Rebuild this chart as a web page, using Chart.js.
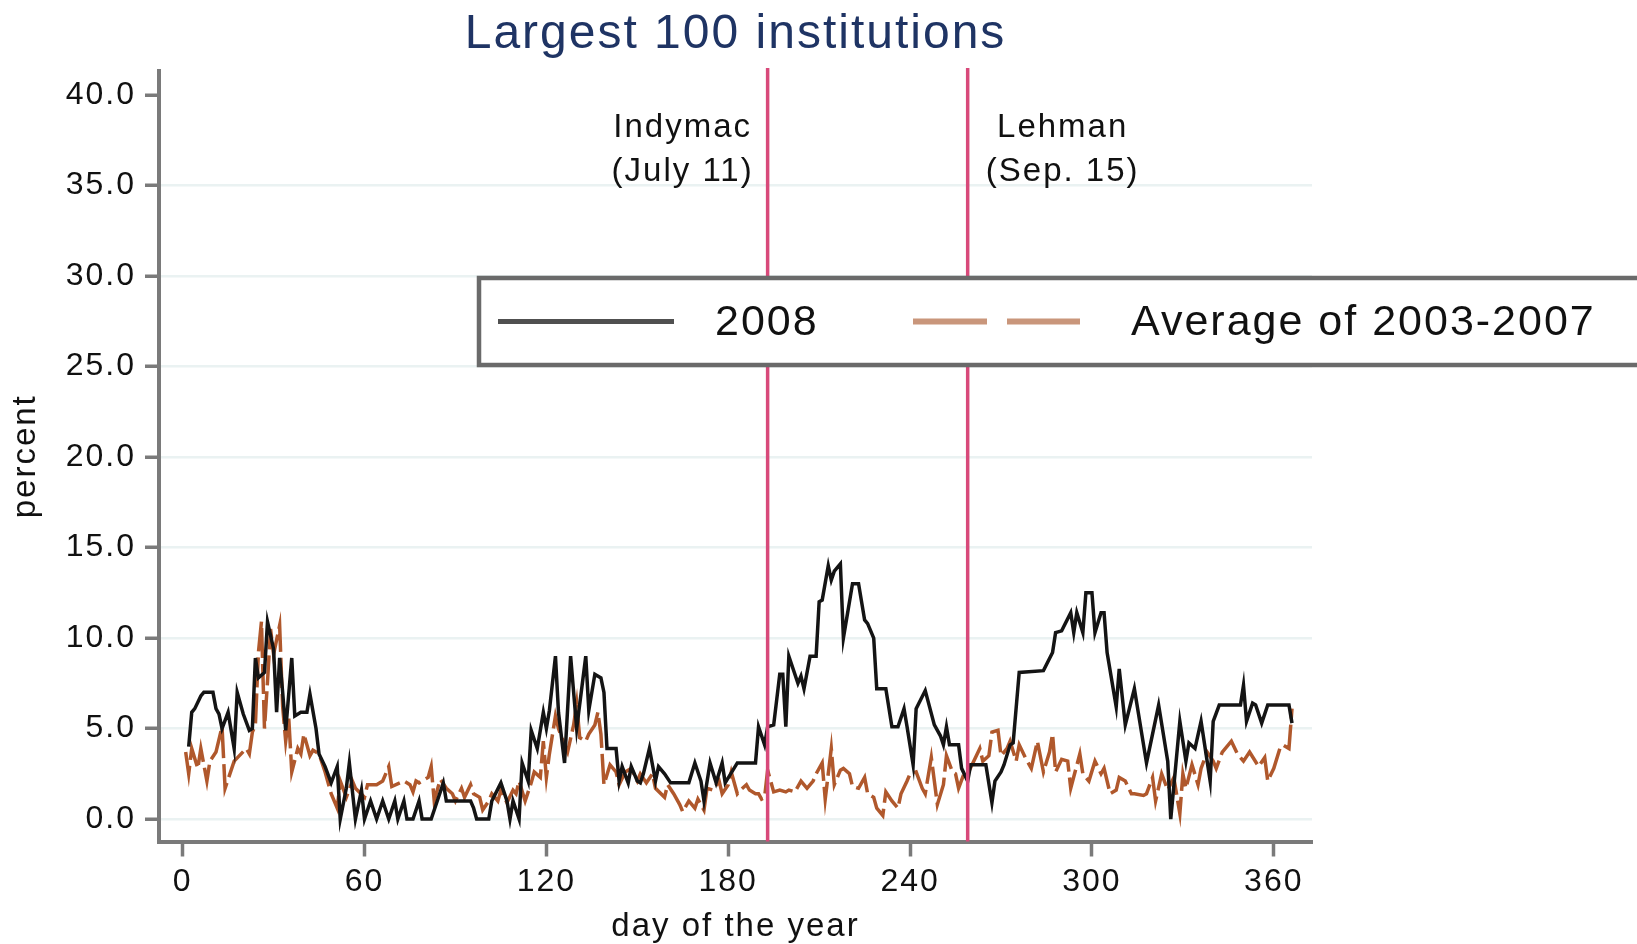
<!DOCTYPE html>
<html>
<head>
<meta charset="utf-8">
<title>Largest 100 institutions</title>
<script src="https://cdn.jsdelivr.net/npm/chart.js@4/dist/chart.umd.min.js"></script>
<style>
  html, body { margin: 0; padding: 0; background: #fff; }
  #wrap { width: 1637px; height: 944px; position: relative; }
</style>
</head>
<body>
<div id="wrap"><canvas id="chart"></canvas></div>
<script>
// ---- data -----------------------------------------------------------------
const dayTicks = [0, 60, 120, 180, 240, 300, 360]
const pctTicks = [0, 5, 10, 15, 20, 25, 30, 35, 40]

const seriesLabels = ["2008", "Average of 2003-2007"]

// 2008 (solid black)
const days2008 = [2, 3, 4, 6, 7, 10, 11, 12, 13, 15, 16, 17, 18, 20, 22, 23, 24, 25, 27, 28,
  30, 31, 32, 33, 34, 36, 37, 39, 41, 42, 44, 45, 47, 49, 51, 52, 54, 55, 57, 59,
  60, 62, 64, 66, 68, 70, 71, 73, 74, 76, 78, 79, 82, 84, 86, 87, 95, 96, 97, 101,
  102, 105, 107, 108, 109, 111, 112, 114, 115, 117, 119, 120, 121, 123, 124, 126, 128, 130, 133, 134,
  136, 138, 139, 140, 143, 144, 145, 147, 148, 150, 151, 152, 154, 156, 157, 159, 161, 167, 169, 171,
  172, 174, 176, 178, 179, 183, 189, 190, 192, 193, 195, 197, 198, 199, 200, 203, 204, 205, 207, 209,
  210, 211, 213, 214, 215, 217, 218, 221, 223, 225, 226, 228, 229, 232, 234, 236, 238, 239, 241, 242,
  245, 248, 250, 251, 252, 253, 256, 257, 259, 260, 265, 267, 268, 270, 271, 273, 274, 276, 284, 287,
  288, 290, 293, 294, 295, 297, 298, 300, 301, 303, 304, 305, 308, 309, 311, 314, 318, 322, 325, 326,
  329, 331, 332, 334, 336, 339, 340, 342, 349, 350, 351, 353, 354, 356, 358, 365, 366]
const pct2008 = [4.0, 5.9, 6.1, 6.8, 7.0, 7.0, 6.1, 5.8, 5.0, 5.9, 4.9, 3.9, 7.0, 5.8, 4.9, 5.0, 8.9, 7.8, 8.1, 10.9,
  9.4, 5.9, 8.9, 7.0, 4.9, 8.9, 5.7, 5.9, 5.9, 6.9, 5.0, 3.6, 2.9, 2.0, 2.9, 0.0, 1.7, 3.1, 0.0, 1.6,
  0.0, 1.0, 0.0, 1.0, 0.0, 1.0, 0.0, 1.0, 0.0, 0.0, 1.0, 0.0, 0.0, 1.0, 2.0, 1.0, 1.0, 0.6, 0.0, 0.0,
  1.0, 2.0, 1.0, 0.0, 1.0, 0.0, 3.1, 2.1, 4.9, 3.9, 5.9, 5.0, 6.0, 9.0, 5.9, 3.1, 9.0, 5.0, 9.0, 6.0,
  8.0, 7.8, 7.0, 3.9, 3.9, 2.1, 2.9, 2.0, 2.9, 2.1, 2.0, 2.5, 3.9, 2.1, 2.9, 2.5, 2.0, 2.0, 3.1, 2.1,
  1.0, 3.1, 2.0, 3.1, 2.0, 3.1, 3.1, 5.1, 4.1, 5.1, 5.2, 8.0, 8.0, 5.1, 9.0, 7.5, 7.9, 7.2, 9.0, 9.0,
  12.0, 12.1, 14.0, 13.2, 13.7, 14.1, 10.0, 13.0, 13.0, 11.0, 10.8, 10.0, 7.2, 7.2, 5.1, 5.1, 6.1, 5.1, 3.0, 6.1,
  7.1, 5.2, 4.6, 4.1, 5.1, 4.1, 4.1, 2.8, 2.1, 3.0, 3.0, 0.9, 2.1, 2.6, 3.0, 4.1, 4.2, 8.1, 8.2, 9.2,
  10.3, 10.4, 11.4, 10.3, 11.4, 10.3, 12.5, 12.5, 10.3, 11.4, 11.4, 9.2, 6.2, 8.3, 5.2, 7.2, 3.1, 6.3, 3.2, 0.0,
  5.4, 3.2, 4.2, 3.9, 5.4, 2.1, 5.4, 6.3, 6.3, 7.4, 5.4, 6.4, 6.3, 5.3, 6.3, 6.3, 5.3]

// Average of 2003-2007 (dashed brown)
const daysAvg = [1, 2, 3, 5, 6, 8, 9, 11, 13, 14, 17, 21, 22, 23, 24, 25, 26, 27, 28, 29,
  30, 32, 33, 34, 35, 36, 38, 39, 40, 42, 43, 45, 47, 49, 51, 52, 54, 56, 57, 60,
  61, 64, 66, 68, 69, 73, 75, 76, 77, 78, 81, 82, 83, 85, 87, 89, 90, 92, 93, 95,
  96, 98, 99, 101, 102, 104, 105, 107, 109, 110, 111, 113, 115, 116, 118, 119, 120, 121, 123, 124,
  126, 127, 129, 130, 131, 133, 134, 136, 137, 138, 139, 141, 143, 144, 146, 148, 150, 151, 153, 155,
  156, 159, 160, 162, 164, 165, 167, 169, 170, 172, 173, 175, 177, 178, 180, 181, 183, 184, 186, 187,
  189, 190, 191, 192, 193, 195, 197, 199, 200, 202, 204, 206, 208, 209, 211, 212, 214, 215, 217, 218,
  220, 221, 223, 225, 226, 228, 229, 231, 232, 234, 236, 237, 239, 240, 242, 244, 245, 247, 248, 249,
  251, 252, 254, 255, 256, 258, 259, 261, 263, 264, 266, 267, 269, 270, 272, 273, 275, 276, 278, 280,
  282, 284, 286, 287, 288, 290, 292, 293, 296, 297, 299, 301, 303, 304, 306, 308, 309, 311, 313, 314,
  317, 318, 320, 321, 323, 325, 327, 329, 330, 331, 333, 335, 336, 338, 340, 341, 343, 346, 348, 350,
  352, 355, 357, 358, 360, 362, 363, 365, 366]
const pctAvg = [3.7, 2.5, 3.9, 2.8, 3.9, 2.1, 3.2, 3.7, 5.1, 1.7, 3.2, 3.9, 3.6, 4.8, 5.2, 9.2, 10.9, 5.0, 7.6, 10.5,
  9.1, 10.7, 6.2, 4.3, 5.6, 2.6, 3.9, 3.6, 4.7, 3.5, 3.8, 3.6, 2.6, 1.4, 0.6, 2.1, 1.2, 2.1, 1.7, 1.2,
  1.9, 1.9, 2.1, 2.9, 1.8, 2.1, 1.9, 1.5, 2.1, 2.0, 2.3, 2.9, 1.0, 2.2, 1.7, 1.4, 1.0, 1.7, 1.2, 1.9,
  1.4, 1.2, 0.5, 1.0, 1.4, 1.0, 1.6, 0.9, 1.6, 1.4, 2.1, 1.0, 2.0, 2.6, 2.3, 4.3, 2.3, 3.6, 5.7, 5.0,
  4.1, 3.7, 5.2, 6.4, 4.5, 4.3, 4.7, 5.2, 5.9, 4.7, 1.9, 3.0, 2.6, 1.9, 2.6, 2.8, 2.1, 2.5, 2.0, 2.5,
  1.7, 1.2, 1.9, 1.4, 0.8, 0.4, 1.0, 0.6, 1.1, 0.5, 1.7, 1.6, 2.1, 1.4, 1.9, 2.6, 1.4, 1.6, 1.9, 1.6,
  1.4, 1.4, 1.1, 1.2, 2.7, 1.5, 1.6, 1.5, 1.6, 1.5, 2.1, 1.7, 2.1, 2.5, 3.1, 1.1, 3.9, 1.9, 2.7, 2.8,
  2.5, 1.8, 1.7, 2.3, 1.4, 1.2, 0.6, 0.2, 1.5, 1.0, 0.6, 1.4, 2.1, 2.5, 2.6, 1.7, 1.4, 3.4, 2.1, 0.8,
  1.9, 3.5, 2.6, 2.5, 1.7, 2.6, 2.5, 3.2, 3.9, 3.2, 3.5, 4.8, 4.9, 3.5, 3.9, 4.3, 3.2, 4.1, 3.4, 2.8,
  4.3, 2.6, 3.7, 4.7, 2.6, 3.3, 3.2, 1.7, 3.6, 2.5, 2.1, 3.2, 2.5, 2.8, 1.4, 1.6, 2.3, 2.1, 1.4, 1.4,
  1.3, 1.4, 2.3, 1.0, 2.5, 1.6, 2.3, 0.3, 2.5, 1.7, 3.0, 1.9, 2.8, 3.7, 3.2, 2.8, 3.7, 4.3, 3.6, 3.2,
  3.7, 2.9, 3.4, 2.1, 2.8, 3.9, 4.1, 3.9, 6.1]

// event markers (day of year 2008) and their labels
const eventDays = [193, 259]
const eventLabels = [["Indymac", "(July 11)"], ["Lehman", "(Sep. 15)"]]

// ---- look ------------------------------------------------------------------
const FONT = '"Liberation Sans", Arial, Helvetica, sans-serif'
const AXIS_GREY = "#7a7a7a"
const TEXT = "#111"
const TRACK = "2px"

const toPoints = (xs, ys) => xs.map((x, i) => ({ x: x, y: ys[i] }))

// Stata draws its Helvetica with a little tracking; canvas state is reset
// when Chart.js resizes the canvas, so it is set again before layout/draw.
const tracking = {
  id: "tracking",
  beforeLayout(chart) { chart.ctx.letterSpacing = TRACK },
  beforeDraw(chart) { chart.ctx.letterSpacing = TRACK }
}

// event lines + the legend box that sits on top of them
const overlays = {
  id: "overlays",
  afterDatasetsDraw(chart) {
    const { ctx, chartArea: area, scales: { x } } = chart
    ctx.save()
    ctx.strokeStyle = "#d8497a"
    ctx.lineWidth = 3.5
    eventDays.forEach((d) => {
      const px = x.getPixelForValue(d)
      ctx.beginPath()
      ctx.moveTo(px, area.top - 3)
      ctx.lineTo(px, area.bottom)
      ctx.stroke()
    })

    // legend: white box running off the right edge of the picture
    const top = 278, bottom = 365, left = area.left + 320
    const midY = (top + bottom) / 2
    ctx.fillStyle = "#fff"
    ctx.fillRect(left, top, chart.width, bottom - top)
    ctx.strokeStyle = "#6a6a6a"
    ctx.lineWidth = 4.5
    ctx.strokeRect(left, top, chart.width, bottom - top)

    ctx.lineWidth = 5
    ctx.strokeStyle = "#505050"
    ctx.beginPath()
    ctx.moveTo(left + 19, midY)
    ctx.lineTo(left + 195, midY)
    ctx.stroke()

    ctx.lineWidth = 6
    ctx.strokeStyle = "#c9967b"
    ctx.setLineDash([74, 20])
    ctx.beginPath()
    ctx.moveTo(left + 434, midY)
    ctx.lineTo(left + 601, midY)
    ctx.stroke()
    ctx.setLineDash([])

    ctx.letterSpacing = TRACK
    ctx.fillStyle = TEXT
    ctx.font = `43px ${FONT}`
    ctx.textAlign = "left"
    ctx.textBaseline = "middle"
    ctx.fillText(seriesLabels[0], left + 236, midY + 2)
    ctx.fillText(seriesLabels[1], left + 652, midY + 2)
    ctx.restore()
  },
  afterDraw(chart) {
    const { ctx, chartArea: area, scales: { x } } = chart
    ctx.save()
    ctx.letterSpacing = TRACK

    // title
    ctx.fillStyle = "#1f3464"
    ctx.font = `48px ${FONT}`
    ctx.textAlign = "center"
    ctx.textBaseline = "alphabetic"
    ctx.fillText("Largest 100 institutions", (area.left + area.right) / 2, 48)

    // event labels: Indymac to the left of its line, Lehman to the right
    ctx.fillStyle = TEXT
    ctx.font = `33px ${FONT}`
    ctx.textBaseline = "middle"
    const shift = [-85, 95]
    eventDays.forEach((d, i) => {
      const cx = x.getPixelForValue(d) + shift[i]
      ctx.fillText(eventLabels[i][0], cx, 128)
      ctx.fillText(eventLabels[i][1], cx, 172)
    })
    ctx.restore()
  }
}

new Chart(document.getElementById("chart"), {
  type: "line",
  data: {
    datasets: [
      {
        label: seriesLabels[0],
        data: toPoints(days2008, pct2008),
        borderColor: "#141414",
        borderWidth: 3.5,
        pointRadius: 0,
        tension: 0
      },
      {
        label: seriesLabels[1],
        data: toPoints(daysAvg, pctAvg),
        borderColor: "#b0582c",
        borderWidth: 3.5,
        borderDash: [30, 6],
        pointRadius: 0,
        tension: 0
      }
    ]
  },
  options: {
    responsive: true,
    maintainAspectRatio: false,
    animation: false,
    devicePixelRatio: 1,
    layout: { padding: { top: 71, right: 325, bottom: 0, left: 0 } },
    plugins: {
      legend: { display: false },
      title: { display: false },
      tooltip: { enabled: false }
    },
    scales: {
      x: {
        type: "linear",
        min: -7.8,
        max: 372.6,
        afterBuildTicks: (s) => { s.ticks = dayTicks.map((v) => ({ value: v })) },
        afterFit: (s) => { s.height = 102.5 },
        grid: { drawOnChartArea: false, tickLength: 15, tickColor: AXIS_GREY, tickWidth: 3.5 },
        border: { color: AXIS_GREY, width: 4 },
        ticks: {
          color: TEXT,
          font: { family: FONT, size: 32 },
          padding: 6,
          maxRotation: 0,
          autoSkip: false
        },
        title: {
          display: true,
          text: "day of the year",
          color: TEXT,
          font: { family: FONT, size: 33, lineHeight: 1 },
          padding: { top: 0, bottom: 1 }
        }
      },
      y: {
        min: -1.24,
        max: 41.33,
        afterBuildTicks: (s) => { s.ticks = pctTicks.map((v) => ({ value: v })) },
        afterFit: (s) => { s.width = 159 },
        grid: {
          // Stata leaves the top (40) gridline out
          color: (c) => (c.tick && c.tick.value === 40 ? "rgba(0,0,0,0)" : "#eaf2f2"),
          lineWidth: 2.5,
          tickLength: 14,
          tickColor: AXIS_GREY,
          tickWidth: 3.5
        },
        border: { color: AXIS_GREY, width: 4 },
        ticks: {
          color: TEXT,
          font: { family: FONT, size: 32 },
          padding: 9,
          callback: (v) => Number(v).toFixed(1)
        },
        title: {
          display: true,
          text: "percent",
          color: TEXT,
          font: { family: FONT, size: 33, lineHeight: 1 },
          padding: { top: 9, bottom: 0 }
        }
      }
    }
  },
  plugins: [tracking, overlays]
})
</script>
</body>
</html>
